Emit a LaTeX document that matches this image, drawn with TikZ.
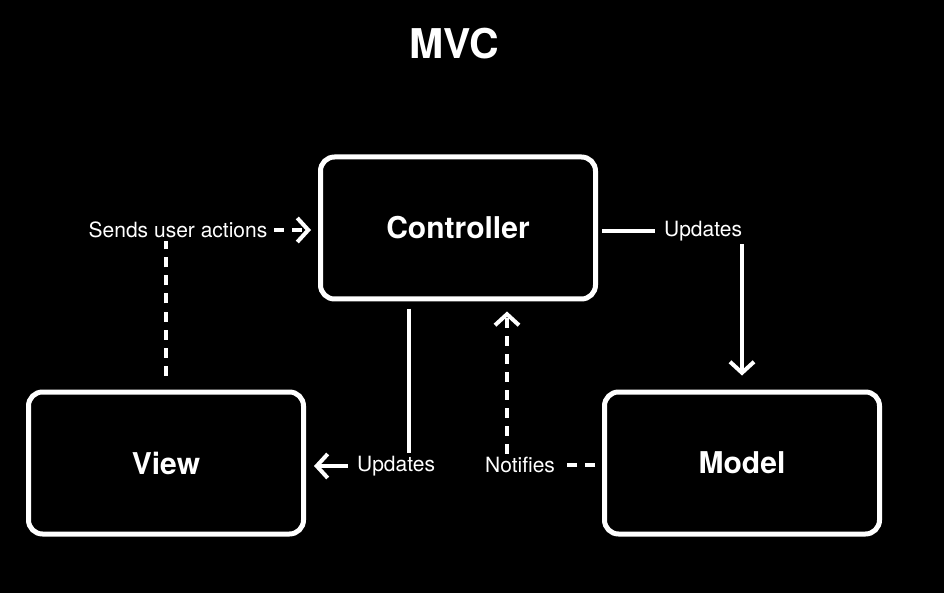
\documentclass[tikz,border=0pt]{standalone}
\usepackage{fontspec}
\setmainfont{TeX Gyre Heros}
\usetikzlibrary{arrows.meta}
\begin{document}
\begin{tikzpicture}[x=1pt, y=-1pt, white,
	box/.style={draw, line width=5pt, rounded corners=14pt, minimum width=275pt, minimum height=142pt, inner sep=0pt, font=\fontsize{30}{36}\selectfont\bfseries},
	lbl/.style={inner sep=3pt, font=\fontsize{21}{25}\selectfont},
	link/.style={line width=4pt},
	dashlink/.style={line width=4pt, dash pattern=on 10pt off 8pt},
	tip/.style={-{Straight Barb[length=11pt, width=24pt]}}]
	\fill[black] (0, 0) rectangle (944, 593);
	\useasboundingbox (0, 0) rectangle (944, 593);
	\node[font=\fontsize{41}{48}\selectfont\bfseries] (mvc) at (454, 44) {MVC};
	\node[box] (ctrl) at (458, 228) {Controller};
	\node[box] (view) at (166, 463) {View};
	\node[box] (model) at (742, 463) {Model};
	\node[lbl] (sends) at (178, 230) {Sends user actions};
	\node[lbl] (updR) at (703, 231) {Updates};
	\node[lbl] (updL) at (396, 466) {Updates};
	\node[lbl] (notif) at (520, 465) {Notifies};
	\draw[dashlink, shorten <=14pt] (view.north) -- (view.north |- sends.south);
	\draw[dashlink, tip, shorten <=4pt, shorten >=7pt] (sends) -- (ctrl.west |- sends);
	\draw[link, shorten <=4pt, shorten >=6pt] (ctrl.east |- updR) -- (updR);
	\draw[link, tip, shorten >=14pt] (updR.south -| model.north) -- (model.north);
	\draw[link, shorten <=7pt] ([xshift=13pt]updL.north |- ctrl.south) -- ([xshift=13pt]updL.north);
	\draw[link, tip, shorten <=6pt, shorten >=8pt] (updL) -- (view.east |- updL);
	\draw[dashlink, shorten <=7pt, shorten >=9pt] (model.west |- notif) -- (notif);
	\draw[dashlink, tip, shorten >=10pt] ([xshift=-13pt]notif.north) -- ([xshift=-13pt]notif.north |- ctrl.south);
\end{tikzpicture}
\end{document}
